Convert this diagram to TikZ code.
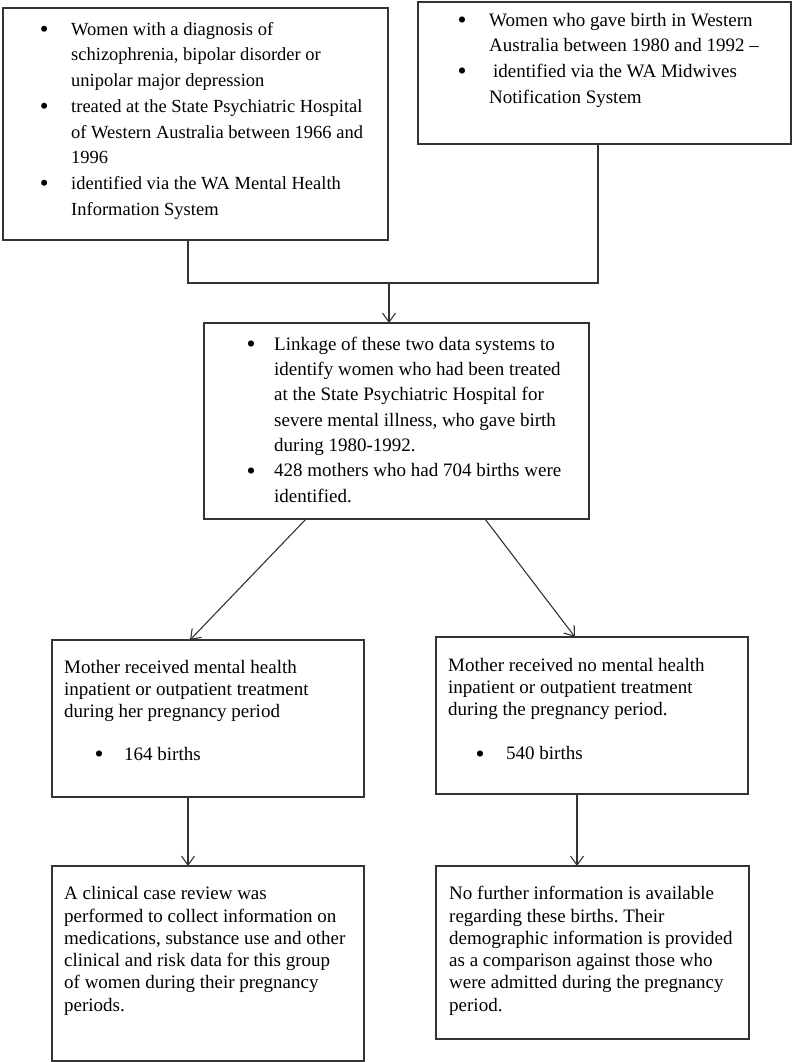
\documentclass[tikz,border=0pt]{standalone}
\usepackage{fontspec}
\setmainfont{Liberation Serif}
\usetikzlibrary{arrows.meta}
\frenchspacing
\begin{document}
\begin{tikzpicture}[x=1pt,y=-1pt,
  box/.style={draw=black!80, line width=1.1pt, rectangle, inner sep=0pt, outer sep=0pt, anchor=north west},
  txt/.style={inner sep=0pt, anchor=north west, align=left, text=black},
  arr/.style={draw=black!80, line width=1.1pt, -{Straight Barb[length=9pt,width=13pt,line width=1.1pt]}},
  con/.style={draw=black!80, line width=1.1pt}]
\useasboundingbox (0,0) rectangle (792,1062);
\newcommand{\bul}[1]{\llap{\raisebox{-2.3pt}{\scalebox{1.35}{•}}\hspace{#1pt}}}
% boxes
\node[box, minimum width=385pt, minimum height=232pt] (b1) at (3,8) {};
\node[box, minimum width=373pt, minimum height=142pt] (b2) at (418,2) {};
\node[box, minimum width=385pt, minimum height=196pt] (b3) at (204,323) {};
\node[box, minimum width=312pt, minimum height=157pt] (b4) at (52,640) {};
\node[box, minimum width=312pt, minimum height=157pt] (b5) at (436,637) {};
\node[box, minimum width=312pt, minimum height=195pt] (b6) at (52,866) {};
\node[box, minimum width=313pt, minimum height=173pt] (b7) at (436,866) {};
% texts
\node[txt, font=\fontsize{18.5}{25.7}\selectfont] (t1) at (71,21) {\rule{0pt}{14pt}\bul{22.5}Women with a diagnosis of\\
schizophrenia, bipolar disorder or\\
unipolar major depression\\
\bul{22.5}treated at the State Psychiatric Hospital\\
of Western Australia between 1966 and\\
1996\\
\bul{22.5}identified via the WA Mental Health\\
Information System};
\node[txt, font=\fontsize{19}{25.7}\selectfont] (t2) at (489,12) {\rule{0pt}{14pt}\bul{22.5}Women who gave birth in Western\\
Australia between 1980 and 1992 –\\
\bul{22.5}\hspace{4pt}identified via the WA Midwives\\
Notification System};
\node[txt, font=\fontsize{19}{25.3}\selectfont] (t3) at (274,336) {\rule{0pt}{14pt}\bul{18.5}Linkage of these two data systems to\\
identify women who had been treated\\
at the State Psychiatric Hospital for\\
severe mental illness, who gave birth\\
during 1980-1992.\\
\bul{18.5}428 mothers who had 704 births were\\
identified.};
\node[txt, font=\fontsize{19}{22}\selectfont] (t4) at (64,659) {\rule{0pt}{14pt}Mother received mental health\\
inpatient or outpatient treatment\\
during her pregnancy period\\[21pt]
\hspace{60pt}\bul{20.5}164 births};
\node[txt, font=\fontsize{19}{22}\selectfont] (t5) at (448,657.5) {\rule{0pt}{14pt}Mother received no mental health\\
inpatient or outpatient treatment\\
during the pregnancy period.\\[22pt]
\hspace{58pt}\bul{21.5}540 births};
\node[txt, font=\fontsize{19}{22.3}\selectfont] (t6) at (64,885.5) {\rule{0pt}{14pt}A clinical case review was\\
performed to collect information on\\
medications, substance use and other\\
clinical and risk data for this group\\
of women during their pregnancy\\
periods.};
\node[txt, font=\fontsize{19}{22.3}\selectfont] (t7) at (449,885.5) {\rule{0pt}{14pt}No further information is available\\
regarding these births. Their\\
demographic information is provided\\
as a comparison against those who\\
were admitted during the pregnancy\\
period.};
% connectors
\coordinate (jm) at (389,283);
\draw[con] ([xshift=185pt]b1.south west) |- (jm) -| ([xshift=180pt]b2.south west);
\draw[arr] (jm) -- (b3.north -| jm);
\draw[arr] ([xshift=102pt]b3.south west) -- ([xshift=138pt]b4.north west);
\draw[arr] ([xshift=281pt]b3.south west) -- ([xshift=139pt]b5.north west);
\draw[arr] ([xshift=136pt]b4.south west) -- ([xshift=136pt]b6.north west);
\draw[arr] ([xshift=141pt]b5.south west) -- ([xshift=141pt]b7.north west);
\end{tikzpicture}
\end{document}
